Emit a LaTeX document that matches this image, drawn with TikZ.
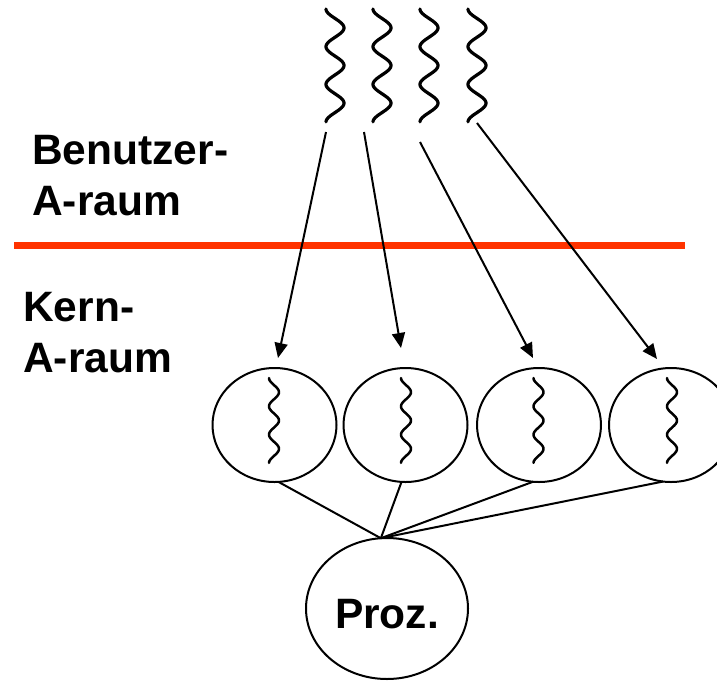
\documentclass[tikz,border=0pt]{standalone}
\usepackage{fontspec}
\setmainfont{Liberation Sans}
\usetikzlibrary{shapes.geometric,arrows.meta}
\definecolor{redline}{RGB}{255,51,0}
\tikzset{
  wavy/.style={line width=3.2pt, line cap=round, line join=round},
  smallwavy/.style={line width=2.5pt, line cap=round, line join=round},
  kthread/.style={ellipse, draw, line width=2pt, inner sep=0pt, outer sep=0pt, minimum width=124pt, minimum height=114pt},
  procnode/.style={ellipse, draw, line width=2pt, inner sep=0pt, outer sep=0pt, minimum width=162pt, minimum height=141pt, font=\fontsize{42.5}{51}\selectfont\bfseries, text height=39pt, text depth=0pt},
  maparrow/.style={line width=2pt, -{Triangle[length=15pt,width=13pt]}},
  link/.style={line width=2pt},
  label/.style={font=\fontsize{42.5}{51}\selectfont\bfseries, align=left, anchor=base west, inner sep=0pt}
}
\begin{document}
\begin{tikzpicture}[x=1pt,y=-1pt]
\useasboundingbox (0,0) rectangle (717,680);
% user threads (top waves)
\foreach \cx in {335,382,429,477}{
  \draw[wavy] plot[domain=0:1, samples=120, smooth] ({\cx - 9*cos(6*180*\x)}, {9+113*\x});
}
% separator
\draw[redline, line width=7pt] (14,245.5) -- (685,245.5);
% labels (base anchor = baseline of the last line)
\node[label] (user) at (32,215) {Benutzer-\\A-raum};
\node[label] (kern) at (23,372) {Kern-\\A-raum};
% kernel threads
\node[kthread] (e1) at (274.5,425) {};
\node[kthread] (e2) at (405.5,425) {};
\node[kthread] (e3) at (539,425) {};
\node[kthread] (e4) at (671,425) {};
\foreach \cx in {274,406,538.5,672}{
  \draw[smallwavy] plot[domain=0:1, samples=100, smooth] ({\cx - 5*cos(6*180*\x)}, {378+85*\x});
}
% processor
\node[procnode] (p) at (387,608.5) {Proz.};
% arrows
\coordinate (s1) at (326,132); \coordinate (t1) at (278,358);
\coordinate (s2) at (364,132); \coordinate (t2) at (401,348);
\coordinate (s3) at (420,142); \coordinate (t3) at (533,358);
\coordinate (s4) at (477,123); \coordinate (t4) at (657,359);
\draw[maparrow] (s1) -- (t1);
\draw[maparrow] (s2) -- (t2);
\draw[maparrow] (s3) -- (t3);
\draw[maparrow] (s4) -- (t4);
% links to processor
\draw[link] (e1.-86) -- (p.95);
\draw[link] (e2.-94) -- (p.95);
\draw[link] (e3.-96) -- (p.95);
\draw[link] (e4.-98) -- (p.95);
\end{tikzpicture}
\end{document}
